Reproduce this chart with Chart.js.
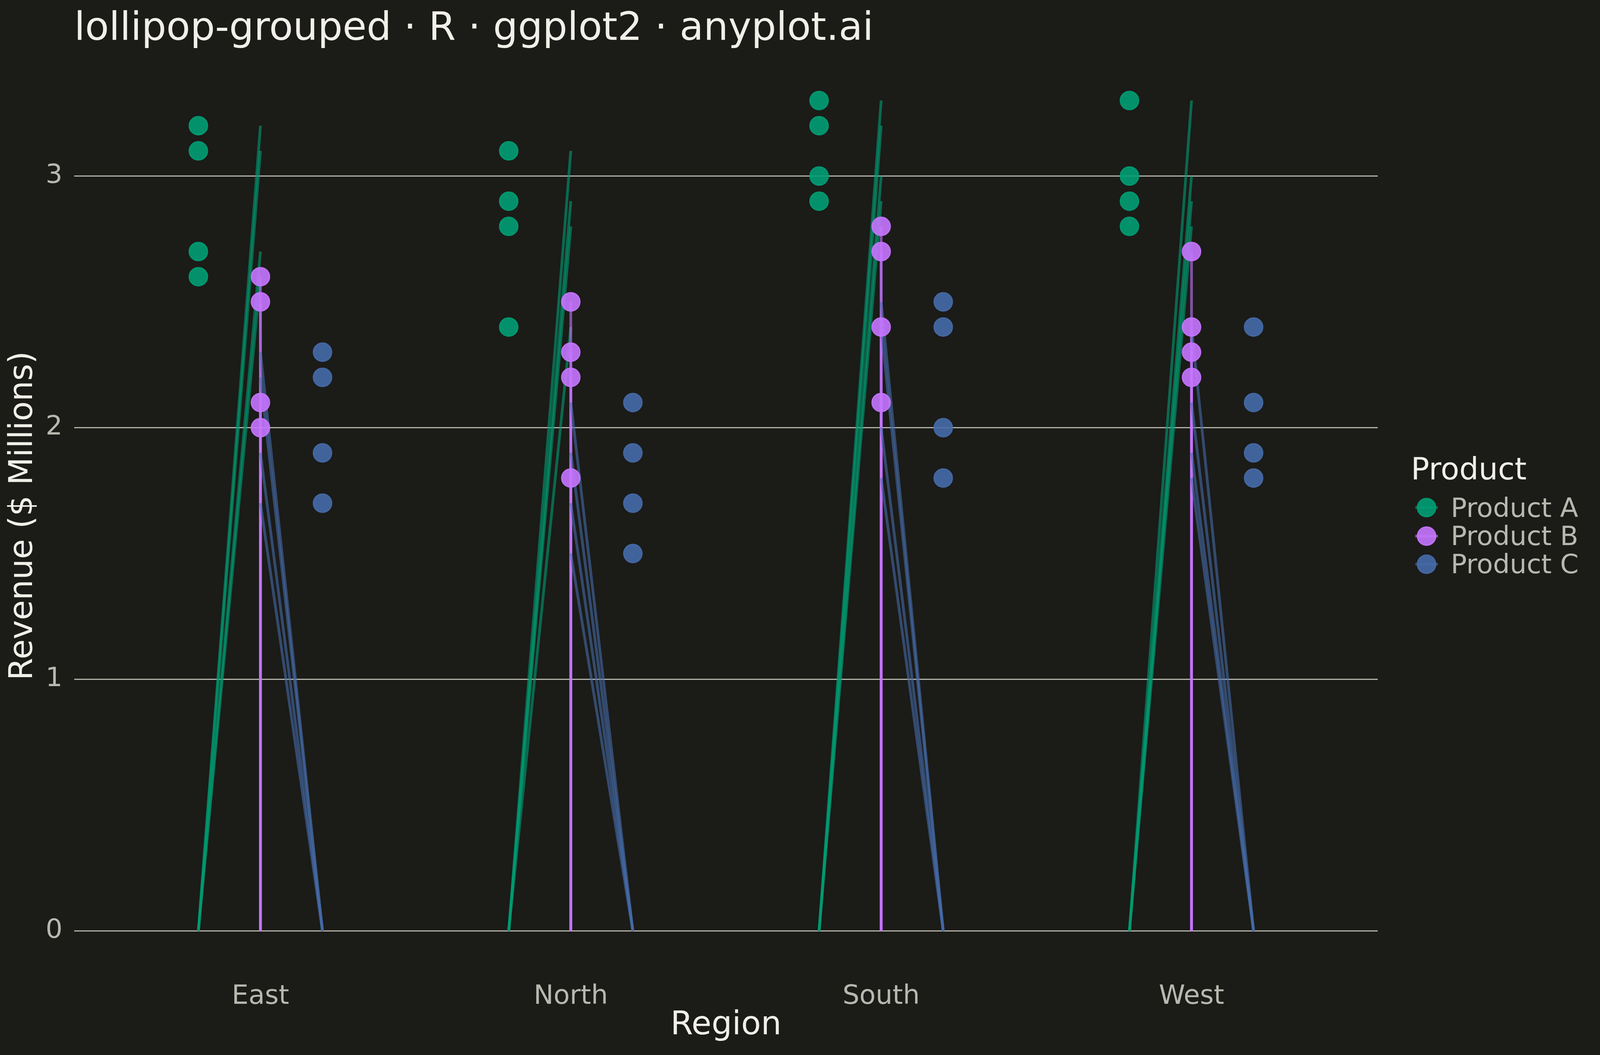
<!DOCTYPE html>
<html>
<head>
<meta charset="utf-8">
<script src="https://cdn.jsdelivr.net/npm/chart.js@4/dist/chart.umd.min.js"></script>
<style>
html,body{margin:0;padding:0;background:#1b1b18;overflow:hidden;}
#c{display:block;}
</style>
</head>
<body>
<canvas id="c"></canvas>
<script>
// ---- data ----
const chartTitle = 'lollipop-grouped · R · ggplot2 · anyplot.ai';
const xTitle = 'Region';
const yTitle = 'Revenue ($ Millions)';
const legendTitle = 'Product';
const regions = ['East', 'North', 'South', 'West'];
const products = ['Product A', 'Product B', 'Product C'];
// four values per region (one list per region)
const productA = [[3.2, 3.1, 2.7, 2.6], [3.1, 2.9, 2.8, 2.4], [3.3, 3.2, 3.0, 2.9], [3.3, 3.0, 2.9, 2.8]];
const productB = [[2.6, 2.5, 2.1, 2.0], [2.5, 2.3, 2.2, 1.8], [2.8, 2.7, 2.4, 2.1], [2.7, 2.4, 2.3, 2.2]];
const productC = [[2.3, 2.2, 1.9, 1.7], [2.1, 1.9, 1.7, 1.5], [2.5, 2.4, 2.0, 1.8], [2.4, 2.1, 1.9, 1.8]];
const yTicks = [0, 1, 2, 3];

// ---- styles ----
const FONT = '"DejaVu Sans", "Liberation Sans", sans-serif';
const BG = '#1b1b18';
const TEXT = '#f0efe8';
const TICK = '#b8b8b0';
const GRID = '#b4b4aa';
const baseRGB = [[0, 158, 115], [199, 118, 255], [70, 108, 170]];
const rgba = (c, a) => `rgba(${c[0]},${c[1]},${c[2]},${a})`;
const dodge = [-0.2, 0, 0.2];
const allValues = [productA, productB, productC];

const canvas = document.getElementById('c');
const W = window.innerWidth || 4800;
const H = window.innerHeight || 2700;
canvas.width = W;
canvas.height = H;
canvas.style.width = W + 'px';
canvas.style.height = H + 'px';

const datasets = [];
// segments: one dataset per segment so overlapping translucent strokes compound
allValues.forEach((vals, p) => {
  vals.forEach((list, i) => {
    list.forEach(v => {
      datasets.push({
        type: 'line', label: products[p] + ' segment',
        data: [{x: i + 1 + dodge[p], y: 0}, {x: i + 1, y: v}],
        borderColor: rgba(baseRGB[p], 0.6), borderWidth: 7, pointRadius: 0, pointHoverRadius: 0,
        tension: 0, fill: false, borderCapStyle: 'butt',
        order: 6 - p
      });
    });
  });
});
// points
allValues.forEach((vals, p) => {
  const data = [];
  vals.forEach((list, i) => list.forEach(v => data.push({x: i + 1 + dodge[p], y: v})));
  datasets.push({
    type: 'scatter', label: products[p], data,
    backgroundColor: rgba(baseRGB[p], 0.9), borderColor: rgba(baseRGB[p], 0.9),
    pointRadius: 23.5, pointBorderWidth: 3, pointHoverRadius: 23.5,
    order: 3 - p
  });
});

const bgPlugin = {
  id: 'bg',
  beforeDraw(chart) {
    const ctx = chart.ctx;
    ctx.save();
    ctx.fillStyle = BG;
    ctx.fillRect(0, 0, chart.width, chart.height);
    ctx.restore();
  }
};

const decorPlugin = {
  id: 'decor',
  afterDraw(chart) {
    const ctx = chart.ctx;
    const w = chart.width;
    ctx.save();
    // title
    ctx.fillStyle = TEXT;
    ctx.font = `100px ${FONT}`;
    ctx.textAlign = 'left';
    ctx.textBaseline = 'alphabetic';
    ctx.fillText(chartTitle, chart.chartArea.left, 102);
    // legend
    ctx.font = `78px ${FONT}`;
    ctx.fillText(legendTitle, w - 484, 1227);
    ctx.font = `68px ${FONT}`;
    const keyY = [1299, 1372, 1444];
    const textY = [1323, 1395, 1467];
    products.forEach((name, p) => {
      ctx.strokeStyle = rgba(baseRGB[p], 0.6);
      ctx.lineWidth = 7;
      ctx.beginPath();
      ctx.moveTo(w - 473, keyY[p]);
      ctx.lineTo(w - 415, keyY[p]);
      ctx.stroke();
      ctx.beginPath();
      ctx.arc(w - 444, keyY[p], 23.5, 0, Math.PI * 2);
      ctx.fillStyle = rgba(baseRGB[p], 0.9);
      ctx.fill();
      ctx.lineWidth = 3;
      ctx.strokeStyle = rgba(baseRGB[p], 0.9);
      ctx.stroke();
      ctx.fillStyle = TICK;
      ctx.fillText(name, w - 382, textY[p]);
    });
    ctx.restore();
  }
};

new Chart(canvas, {
  data: {datasets},
  options: {
    responsive: false,
    animation: false,
    devicePixelRatio: 1,
    layout: {padding: {top: 151, right: 569, bottom: 0, left: 0}},
    plugins: {legend: {display: false}, tooltip: {enabled: false}, title: {display: false}},
    scales: {
      x: {
        type: 'linear', min: 0.4, max: 4.6,
        afterBuildTicks: s => { s.ticks = regions.map((r, i) => ({value: i + 1})); },
        ticks: {
          callback: (v, idx) => regions[idx],
          color: TICK, font: {family: FONT, size: 68}, padding: 22,
          autoSkip: false, maxRotation: 0, minRotation: 0
        },
        grid: {display: false, drawTicks: false},
        border: {display: false},
        title: {display: true, text: xTitle, color: TEXT, font: {family: FONT, size: 83}, padding: {top: 0, bottom: 25}},
        afterFit: s => { s.height = H - 2489; }
      },
      y: {
        type: 'linear', min: -0.165, max: 3.465,
        afterBuildTicks: s => { s.ticks = yTicks.map(v => ({value: v})); },
        ticks: {color: TICK, font: {family: FONT, size: 68}, padding: 30},
        grid: {color: GRID, lineWidth: 3, drawTicks: false},
        border: {display: false},
        title: {display: true, text: yTitle, color: TEXT, font: {family: FONT, size: 83}, padding: {top: 11, bottom: 0}},
        afterFit: s => { s.width = 190; }
      }
    }
  },
  plugins: [bgPlugin, decorPlugin]
});
</script>
</body>
</html>
